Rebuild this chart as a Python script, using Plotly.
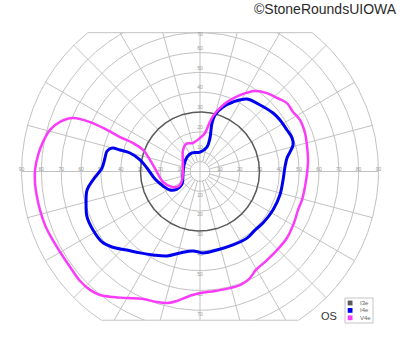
import numpy as np
import plotly.graph_objects as go

# ---------------- data (Goldmann kinetic perimetry, left eye) ----------------
SERIES_NAMES = ["I3e", "I4e", "V4e"]
SERIES_COLORS = ["#5a5a5a", "#0000f0", "#fa3cfa"]

# I3e isopter: constant eccentricity ring (degrees)
I3E_ECC = 30

# I4e isopter: meridian angle (deg, 0 = right, counter-clockwise) and eccentricity (deg)
I4E_ANGLE = [3.0, 8.8, 12.2, 15.9, 20.0, 25.5, 32.8, 38.7, 47.9, 57.0, 64.6, 70.4,
             75.1, 76.1, 73.4, 74.1, 90.0, 113.4, 131.9, 157.9, 191.6, 214.8, 217.3,
             211.7, 201.4, 189.5, 176.2, 169.1, 165.2, 165.0, 165.0, 167.6, 171.9,
             178.0, 184.5, 189.3, 195.4, 201.9, 208.7, 215.7, 220.6, 227.1, 233.6,
             240.6, 248.7, 256.2, 265.0, 272.1, 282.2, 294.2, 305.2, 313.2, 320.7,
             332.2, 343.6, 354.2]
I4E_ECC = [42.9, 44.4, 46.4, 48.8, 49.4, 48.6, 48.0, 47.2, 45.2, 43.6, 38.8, 34.5,
           29.5, 25.2, 17.6, 12.8, 9.8, 10.2, 9.8, 8.7, 8.8, 11.0, 14.6,
           17.8, 20.0, 23.0, 26.8, 30.8, 36.5, 41.8, 45.9, 48.0, 48.4,
           49.5, 54.1, 57.7, 59.6, 61.4, 61.5, 60.9, 58.5, 54.1, 51.0,
           48.3, 45.7, 42.3, 40.2, 41.1, 40.5, 40.6, 41.1, 40.5, 41.0,
           41.6, 42.0, 42.1]

# V4e isopter
V4E_ANGLE = [6.1, 12.9, 20.1, 27.3, 32.6, 38.2, 43.7, 49.5, 55.7, 62.4, 68.8, 72.5,
             76.8, 79.3, 82.6, 90.0, 103.8, 117.0, 128.3, 165.2, 205.3, 214.6, 209.0,
             195.8, 180.7, 167.0, 159.3, 157.0, 156.7, 155.9, 155.8, 157.2, 160.5,
             164.5, 169.4, 174.2, 179.5, 184.0, 188.9, 193.5, 199.0, 203.7, 209.9,
             216.3, 222.4, 227.1, 231.0, 235.3, 240.0, 245.9, 251.8, 256.3, 259.9,
             264.1, 270.0, 277.2, 284.4, 289.4, 294.5, 299.6, 307.1, 314.4, 322.6,
             328.4, 332.9, 338.6, 344.4, 351.6, 359.2]
V4E_ECC = [54.8, 55.4, 56.4, 56.7, 55.7, 55.8, 53.7, 52.0, 49.2, 43.5, 37.6, 33.6,
           28.7, 24.4, 19.6, 16.9, 14.8, 15.6, 13.8, 8.9, 10.0, 12.9, 16.1,
           19.4, 21.7, 25.9, 30.7, 36.7, 43.9, 51.4, 60.8, 69.5, 74.9,
           78.5, 80.6, 82.1, 83.2, 83.4, 83.2, 83.0, 82.7, 82.1, 81.4,
           81.3, 81.9, 81.5, 80.1, 77.0, 73.7, 70.4, 69.3, 68.2, 66.3,
           63.6, 61.3, 60.7, 60.7, 60.7, 59.6, 57.1, 56.0, 55.5, 55.2,
           54.4, 53.8, 53.1, 53.4, 53.5, 54.0]

# chart grid definition
RING_VALUES = [10, 20, 40, 50, 60, 70, 80, 90]   # 30 is the I3e ring
INNER_RING = 5
MERIDIANS = list(range(0, 360, 15))
FIELD_LIMIT = 90
UPPER_LIMIT = 70
LOWER_LIMIT = 75
HORIZ_TICKS = [10, 20, 30, 40, 50, 60, 70, 80, 90]
UPPER_TICKS = [10, 20, 30, 40, 50, 60, 70]
LOWER_TICKS = [10, 20, 30, 40, 50, 60, 70]
EYE_LABEL = "OS"
CREDIT = "\u00a9StoneRoundsUIOWA"

# ---------------- styling ----------------
W, H = 400, 352
PX_PER_DEG = 1.983
CX, CY = 200.0, 171.5
GRID = "#c2c2c2"
TICK_COLOR = "#9a9a9a"


def to_xy(theta_deg, r):
    t = np.radians(np.asarray(theta_deg, dtype=float))
    r = np.asarray(r, dtype=float)
    return r * np.cos(t), r * np.sin(t)


def clip_xy(x, y):
    x = x.copy(); y = y.copy()
    bad = (y > UPPER_LIMIT + 1e-9) | (y < -LOWER_LIMIT - 1e-9)
    x[bad] = np.nan; y[bad] = np.nan
    return x, y


def closed(a):
    return list(a) + [a[0]]


fig = go.Figure()

# rings
gx, gy = [], []
tt = np.linspace(0, 360, 2881)
for r in [INNER_RING] + RING_VALUES:
    x, y = to_xy(tt, np.full_like(tt, r))
    x, y = clip_xy(x, y)
    gx += list(x) + [None]; gy += list(y) + [None]
fig.add_trace(go.Scatter(x=gx, y=gy, mode="lines", line=dict(color=GRID, width=1),
                         hoverinfo="skip", showlegend=False))

# meridians + limit chords
mx, my = [], []
for th in MERIDIANS:
    s = np.sin(np.radians(th))
    r0 = 0 if th % 90 == 0 else INNER_RING
    if s > 1e-9:
        r1 = min(FIELD_LIMIT, UPPER_LIMIT / s)
    elif s < -1e-9:
        r1 = min(FIELD_LIMIT, LOWER_LIMIT / -s)
    else:
        r1 = FIELD_LIMIT
    x, y = to_xy([th, th], [r0, r1])
    mx += list(x) + [None]; my += list(y) + [None]
for lim, sign in [(UPPER_LIMIT, 1), (LOWER_LIMIT, -1)]:
    half = np.sqrt(FIELD_LIMIT ** 2 - lim ** 2)
    mx += [-half, half, None]; my += [sign * lim, sign * lim, None]
fig.add_trace(go.Scatter(x=mx, y=my, mode="lines", line=dict(color=GRID, width=1),
                         hoverinfo="skip", showlegend=False))

# tick labels
lx, ly, lt = [], [], []
for r in HORIZ_TICKS:
    for th in (0, 180):
        x, y = to_xy(th, r)
        lx.append(float(x)); ly.append(float(y) + 1.1); lt.append(str(r))
for r in UPPER_TICKS:
    x, y = to_xy(90, min(r + 2, UPPER_LIMIT - 0.8))
    lx.append(float(x)); ly.append(float(y)); lt.append(str(r))
for r in LOWER_TICKS:
    x, y = to_xy(270, r + 2)
    lx.append(float(x)); ly.append(float(y)); lt.append(str(r))
fig.add_trace(go.Scatter(x=lx, y=ly, text=lt, mode="text",
                         textfont=dict(size=5, color=TICK_COLOR, family="Liberation Sans, Arial"),
                         hoverinfo="skip", showlegend=False))

# isopters
x, y = to_xy(tt, np.full_like(tt, I3E_ECC))
fig.add_trace(go.Scatter(x=x, y=y, mode="lines", name=SERIES_NAMES[0],
                         line=dict(color=SERIES_COLORS[0], width=1.5), showlegend=False))
x, y = to_xy(closed(I4E_ANGLE), closed(I4E_ECC))
fig.add_trace(go.Scatter(x=x, y=y, mode="lines", name=SERIES_NAMES[1],
                         line=dict(color=SERIES_COLORS[1], width=3, shape="spline", smoothing=1),
                         showlegend=False))
x, y = to_xy(closed(V4E_ANGLE), closed(V4E_ECC))
fig.add_trace(go.Scatter(x=x, y=y, mode="lines", name=SERIES_NAMES[2],
                         line=dict(color=SERIES_COLORS[2], width=2.5, shape="spline", smoothing=1),
                         showlegend=False))

# manual legend
shapes, annos = [], []
def px(xp):
    return xp / W
def py(yp):
    return 1 - yp / H

shapes.append(dict(type="rect", xref="paper", yref="paper", x0=px(345), x1=px(373),
                   y0=py(323), y1=py(298), line=dict(color="#c4c4c4", width=1),
                   fillcolor="white", layer="above"))
for i, (name, col) in enumerate(zip(SERIES_NAMES, SERIES_COLORS)):
    yc = 303 + i * 7.4
    shapes.append(dict(type="rect", xref="paper", yref="paper", x0=px(347.7), x1=px(352.5),
                       y0=py(yc + 2.4), y1=py(yc - 2.4), line=dict(width=0),
                       fillcolor=col, layer="above"))
    annos.append(dict(x=px(358), y=py(yc), xref="paper", yref="paper", text=name,
                      showarrow=False, xanchor="left", yanchor="middle",
                      font=dict(size=6, color="#666", family="Liberation Sans, Arial")))

annos.append(dict(x=px(328.5), y=py(316), xref="paper", yref="paper", text=EYE_LABEL,
                  showarrow=False, xanchor="center", yanchor="middle",
                  font=dict(size=11, color="#333", family="Liberation Sans, Arial")))
annos.append(dict(x=px(398.5), y=py(9), xref="paper", yref="paper", text=CREDIT,
                  showarrow=False, xanchor="right", yanchor="middle",
                  font=dict(size=14, color="#2a2a2a", family="Liberation Sans, Arial")))

fig.update_layout(
    width=W, height=H, margin=dict(l=0, r=0, t=0, b=0, pad=0),
    paper_bgcolor="white", plot_bgcolor="white", showlegend=False,
    hovermode=False,
    xaxis=dict(range=[-CX / PX_PER_DEG, (W - CX) / PX_PER_DEG], visible=False, fixedrange=True),
    yaxis=dict(range=[-(H - CY) / PX_PER_DEG, CY / PX_PER_DEG], visible=False, fixedrange=True),
    shapes=shapes, annotations=annos,
    font=dict(family="Liberation Sans, Arial"),
)

fig.write_html("out.html", config={"displayModeBar": False})
